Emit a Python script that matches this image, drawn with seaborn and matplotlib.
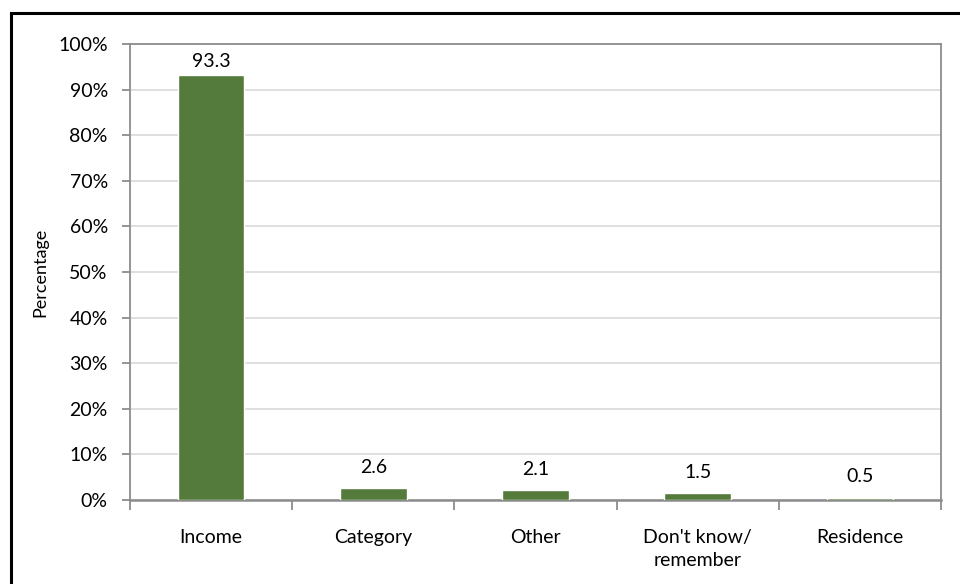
import matplotlib
matplotlib.use("Agg")
import matplotlib.pyplot as plt
import seaborn as sns
import pandas as pd
from matplotlib.patches import Rectangle
from matplotlib.ticker import FixedLocator, FuncFormatter

categories = ["Income", "Category", "Other", "Don't know/\nremember", "Residence"]
values = [93.3, 2.6, 2.1, 1.5, 0.5]
value_labels = ["93.3", "2.6", "2.1", "1.5", "0.5"]

sns.set_theme(style="white")
plt.rcParams["font.family"] = ["Lato", "DejaVu Sans"]

df = pd.DataFrame({"category": categories, "value": values})

fig = plt.figure(figsize=(9.6, 5.84), dpi=100)
ax = fig.add_axes([130/960, 1-500/584, (941-130)/960, (500-44)/584])

sns.barplot(data=df, x="category", y="value", color="#557B3C", width=0.41,
            saturation=1, ax=ax, zorder=3)

ax.set_xlim(-0.5, len(categories)-0.5)
ax.set_ylim(0, 100)
ax.set_xlabel("")
ax.set_ylabel("Percentage", fontsize=13, color="black", labelpad=7)

# y axis
ax.set_yticks(range(0, 101, 10))
ax.yaxis.set_major_formatter(FuncFormatter(lambda v, p: f"{int(v)}%"))
ax.tick_params(axis="y", which="major", left=True, length=6, width=1.3,
               color="#8c8c8c", labelsize=14, labelcolor="black", pad=10)
ax.yaxis.grid(True, color="#d9d9d9", linewidth=1.2, zorder=0)
ax.set_axisbelow(True)

# x axis: ticks at category boundaries, labels at centers
n = len(categories)
ax.xaxis.set_major_locator(FixedLocator([i - 0.5 for i in range(n + 1)]))
ax.xaxis.set_major_formatter(FuncFormatter(lambda v, p: ""))
ax.xaxis.set_minor_locator(FixedLocator(list(range(n))))
ax.set_xticklabels(categories, minor=True)
ax.tick_params(axis="x", which="major", bottom=True, length=7, width=1.3, color="#8c8c8c")
ax.tick_params(axis="x", which="minor", bottom=True, length=0, labelsize=14,
               labelcolor="black", pad=21)
for lbl in ax.get_xticklabels(minor=True):
    lbl.set_horizontalalignment("center")
    lbl.set_verticalalignment("top")
    lbl.set_multialignment("center")
    lbl.set_linespacing(1.45)

for s in ax.spines.values():
    s.set_color("#8c8c8c")
    s.set_linewidth(1.3)
ax.spines["bottom"].set_linewidth(1.8)

# data labels
for i, (v, t) in enumerate(zip(values, value_labels)):
    off = 2.8 if v > 50 else 4.6
    ax.text(i, v + off, t, ha="center", va="center", fontsize=14, color="black")

# outer border
fig.add_artist(Rectangle((10.5/960, -0.1), 1.2, 1 - 13/584 + 0.1,
                         transform=fig.transFigure, fill=False,
                         edgecolor="black", linewidth=2.2))

fig.savefig("out.png", dpi=100)
